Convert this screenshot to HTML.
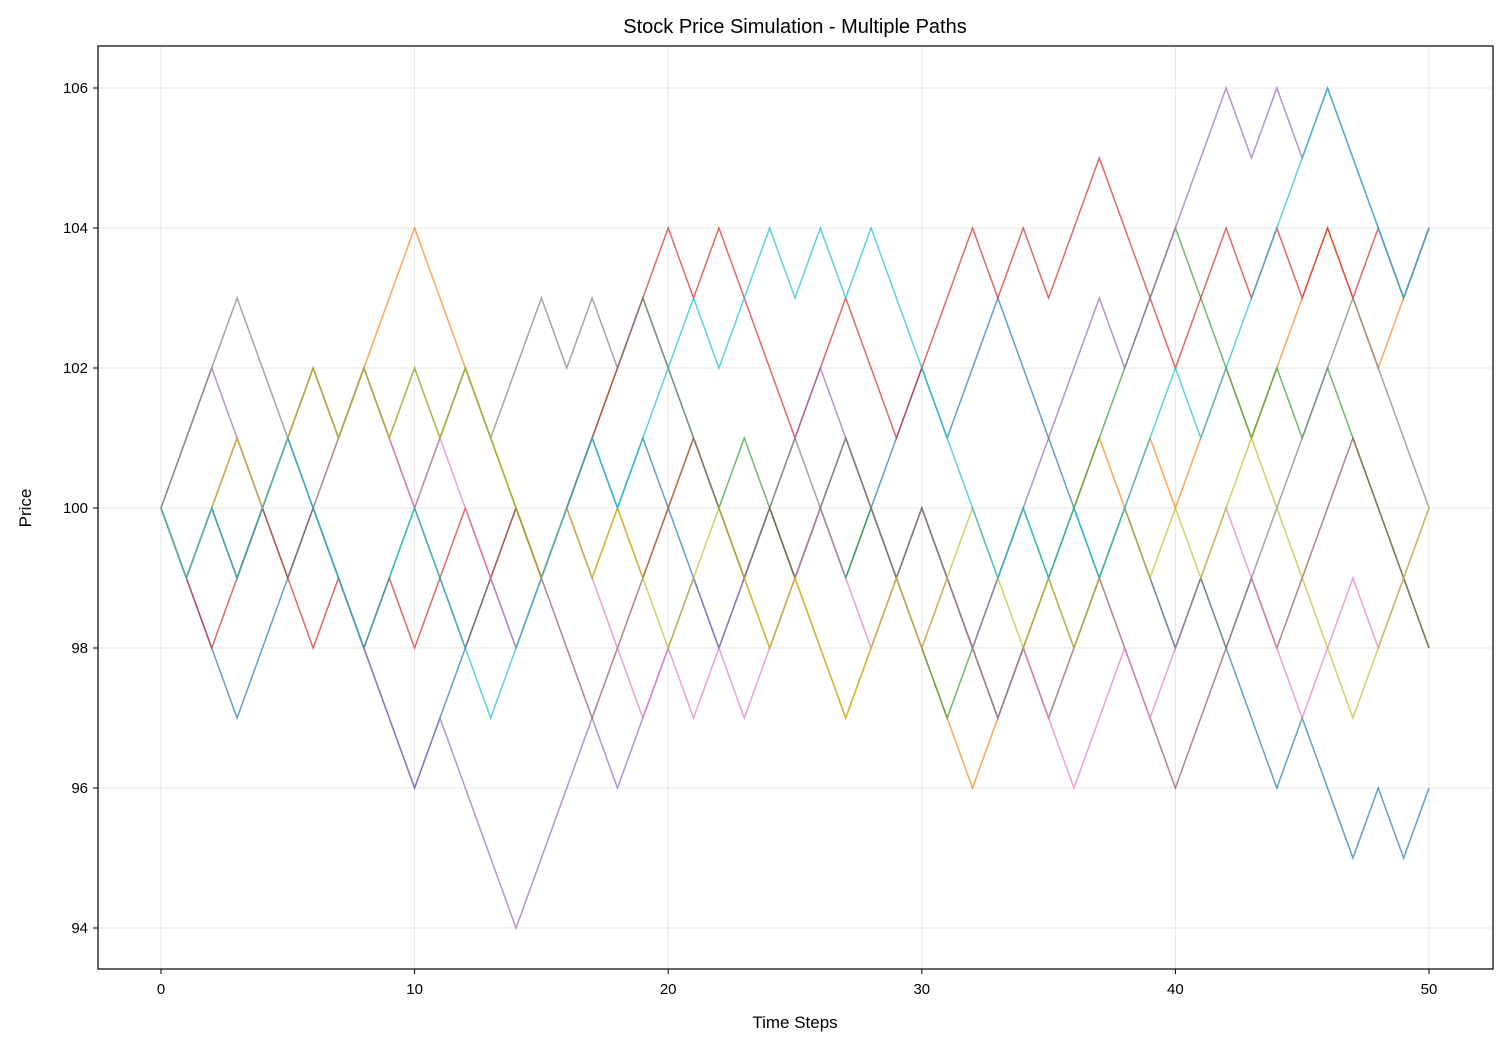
<!DOCTYPE html>
<html><head><meta charset="utf-8">
<style>
html,body{margin:0;padding:0;background:#fff;}
svg{display:block;font-family:"Liberation Sans","DejaVu Sans",sans-serif;}
</style></head>
<body>
<svg id="chart" width="1507" height="1048" viewBox="0 0 1507 1048" xmlns="http://www.w3.org/2000/svg">
<rect x="0" y="0" width="1507" height="1048" fill="#fff"/>
<text x="795" y="33" text-anchor="middle" font-size="20" fill="#000">Stock Price Simulation - Multiple Paths</text>
<g id="grid"></g>
<g id="lines"></g>
<rect x="98" y="46" width="1395" height="923" fill="none" stroke="#000" stroke-width="1.2"/>
<g id="axes"></g>
<text x="795" y="1028" text-anchor="middle" font-size="17" fill="#000">Time Steps</text>
<text x="0" y="0" transform="translate(31,508) rotate(-90)" text-anchor="middle" font-size="17" fill="#000">Price</text>
</svg>
<script>
const xTicks = [0, 10, 20, 30, 40, 50];
const yTicks = [94, 96, 98, 100, 102, 104, 106];
const seriesNames = ["path-0","path-1","path-2","path-3","path-4","path-5","path-6","path-7","path-8","path-9"];
const seriesColors = ["#1f77b4","#ff7f0e","#2ca02c","#d62728","#9467bd","#8c564b","#e377c2","#7f7f7f","#bcbd22","#17becf"];
const path0 = [100,99,98,97,98,99,100,99,98,97, 96,97,98,99,98,99,100,101,100,101, 100,99,98,99,100,99,100,99,100,101, 102,101,102,103,102,101,100,99,100,99, 98,99,98,97,96,97,96,95,96,95, 96];
const path1 = [100,99,100,101,100,101,102,101,102,103, 104,103,102,101,100,99,100,99,100,99, 100,101,100,99,98,99,98,97,98,99, 98,97,96,97,98,99,100,101,100,101, 100,101,102,101,102,103,104,103,102,103, 104];
const path2 = [100,99,100,99,100,101,100,99,98,99, 100,101,102,101,100,99,100,101,102,103, 102,101,100,101,100,99,100,99,100,99, 98,97,98,99,100,99,100,101,102,103, 104,103,102,101,102,101,102,101,100,99, 98];
const path3 = [100,99,98,99,100,99,98,99,98,99, 98,99,100,99,100,99,100,101,102,103, 104,103,104,103,102,101,102,103,102,101, 102,103,104,103,104,103,104,105,104,103, 102,103,104,103,104,103,104,103,104,103, 104];
const path4 = [100,101,102,101,100,101,100,99,98,97, 96,97,96,95,94,95,96,97,96,97, 98,99,98,99,100,101,102,101,100,99, 100,99,98,99,100,101,102,103,102,103, 104,105,106,105,106,105,106,105,104,103, 104];
const path5 = [100,99,100,99,100,99,100,101,102,101, 100,99,98,99,100,99,98,97,98,99, 100,101,100,99,100,99,100,101,100,99, 100,99,98,97,98,97,98,99,98,97, 96,97,98,99,98,99,100,101,100,99, 98];
const path6 = [100,99,100,101,100,101,102,101,102,101, 100,101,100,99,98,99,100,99,98,97, 98,97,98,97,98,99,100,99,98,99, 98,99,98,97,98,97,96,97,98,97, 98,99,100,99,98,97,98,99,98,99, 100];
const path7 = [100,101,102,103,102,101,102,101,102,101, 102,101,102,101,102,103,102,103,102,103, 102,101,100,99,100,101,100,101,100,99, 100,99,98,97,98,99,98,99,100,99, 98,99,98,99,100,101,102,103,102,101, 100];
const path8 = [100,99,100,101,100,101,102,101,102,101, 102,101,102,101,100,99,100,99,100,99, 98,99,100,99,98,99,98,97,98,99, 98,99,100,99,98,99,98,99,100,99, 100,99,100,101,100,99,98,97,98,99, 100];
const path9 = [100,99,100,99,100,101,100,99,98,99, 100,99,98,97,98,99,100,101,100,101, 102,103,102,103,104,103,104,103,104,103, 102,101,100,99,100,99,100,99,100,101, 102,101,102,103,104,105,106,105,104,103, 104];
const allPaths = [path0,path1,path2,path3,path4,path5,path6,path7,path8,path9];

const NS = "http://www.w3.org/2000/svg";
const X0 = 161, XPS = (1429 - 161) / 50;
const Y100 = 508, YPU = 70;
function xScale(t){ return X0 + t * XPS; }
function yScale(v){ return Y100 - (v - 100) * YPU; }

const grid = document.getElementById('grid');
const axes = document.getElementById('axes');
xTicks.forEach(t => {
  const x = xScale(t);
  const g = document.createElementNS(NS,'line');
  g.setAttribute('x1',x); g.setAttribute('x2',x); g.setAttribute('y1',46); g.setAttribute('y2',969);
  g.setAttribute('stroke','#b0b0b0'); g.setAttribute('stroke-opacity','0.3'); g.setAttribute('stroke-width','1');
  
  
  grid.appendChild(g);
  const tk = document.createElementNS(NS,'line');
  tk.setAttribute('x1',x); tk.setAttribute('x2',x); tk.setAttribute('y1',969); tk.setAttribute('y2',974);
  tk.setAttribute('stroke','#000');
  
  
  axes.appendChild(tk);
  const lb = document.createElementNS(NS,'text');
  lb.setAttribute('x',x); lb.setAttribute('y',994); lb.setAttribute('text-anchor','middle'); lb.setAttribute('font-size','15');
  lb.textContent = t;
  
  
  axes.appendChild(lb);
});
yTicks.forEach(v => {
  const y = yScale(v);
  const g = document.createElementNS(NS,'line');
  g.setAttribute('x1',98); g.setAttribute('x2',1493); g.setAttribute('y1',y); g.setAttribute('y2',y);
  g.setAttribute('stroke','#b0b0b0'); g.setAttribute('stroke-opacity','0.3'); g.setAttribute('stroke-width','1');
  
  
  grid.appendChild(g);
  const tk = document.createElementNS(NS,'line');
  tk.setAttribute('x1',93); tk.setAttribute('x2',98); tk.setAttribute('y1',y); tk.setAttribute('y2',y);
  tk.setAttribute('stroke','#000');
  
  
  axes.appendChild(tk);
  const lb = document.createElementNS(NS,'text');
  lb.setAttribute('x',88); lb.setAttribute('y',y+5); lb.setAttribute('text-anchor','end'); lb.setAttribute('font-size','15');
  lb.textContent = v;
  
  
  axes.appendChild(lb);
});

const lines = document.getElementById('lines');
allPaths.forEach((p, i) => {
  const pts = p.map((v, t) => xScale(t).toFixed(2) + ',' + yScale(v).toFixed(2)).join(' ');
  const pl = document.createElementNS(NS,'polyline');
  pl.setAttribute('points', pts);
  pl.setAttribute('fill','none');
  pl.setAttribute('stroke', seriesColors[i]);
  pl.setAttribute('stroke-opacity','0.7');
  pl.setAttribute('stroke-width','1.5');
  pl.setAttribute('stroke-linejoin','miter');
  
  
  lines.appendChild(pl);
});
</script>
</body></html>
